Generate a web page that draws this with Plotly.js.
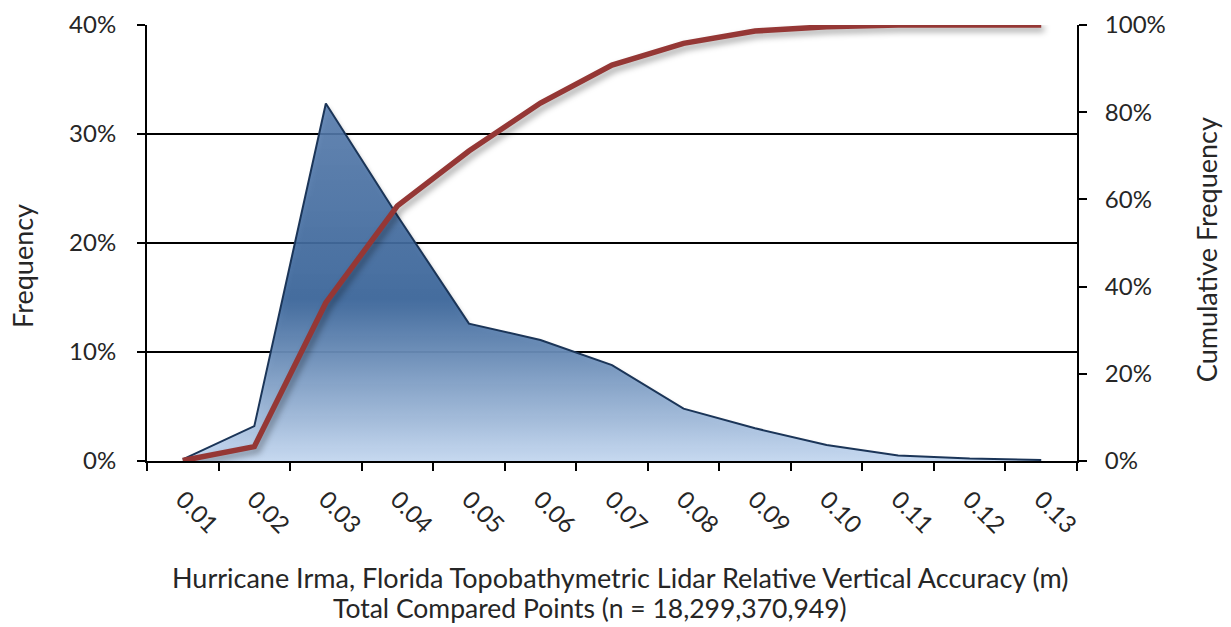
<!DOCTYPE html>
<html>
<head>
<meta charset="utf-8">
<script src="https://cdn.plot.ly/plotly-3.0.1.min.js"></script>
<style>
  html, body { margin: 0; padding: 0; background: #ffffff; }
  #chart { width: 1231px; height: 627px; }
</style>
</head>
<body>
<div id="chart"></div>
<script>
// Category labels (m)
const categories = ["0.01","0.02","0.03","0.04","0.05","0.06","0.07","0.08","0.09","0.10","0.11","0.12","0.13"];
// Frequency (fraction of points) per bin
const frequency = [0.0015, 0.032, 0.328, 0.225, 0.126, 0.111, 0.088, 0.048, 0.030, 0.0147, 0.005, 0.0022, 0.001];
// Cumulative frequency per bin
const cumulative = [0.001, 0.033, 0.363, 0.585, 0.711, 0.821, 0.908, 0.958, 0.986, 0.996, 1.0, 1.0, 1.0];

const leftTicks = [0, 0.1, 0.2, 0.3, 0.4];
const rightTicks = [0, 0.2, 0.4, 0.6, 0.8, 1.0];

const xTitle1 = "Hurricane Irma, Florida Topobathymetric Lidar Relative Vertical Accuracy (m)";
const xTitle2 = "Total Compared Points (n = 18,299,370,949)";
const yTitle = "Frequency";
const y2Title = "Cumulative Frequency";

const FONT = "Lato, 'Open Sans', sans-serif";
const TXT = "#262626";

const traces = [
  {
    x: categories,
    y: frequency,
    type: "scatter",
    mode: "lines",
    fill: "tozeroy",
    fillgradient: {
      type: "vertical",
      start: 0,
      stop: 0.33,
      colorscale: [
        [0, "rgba(198,217,241,0.97)"],
        [0.45, "rgba(60,103,156,0.93)"],
        [1, "rgba(88,126,176,0.88)"]
      ]
    },
    line: { color: "#1B3558", width: 2 },
    xaxis: "x",
    yaxis: "y",
    hoverinfo: "skip",
    showlegend: false
  },
  {
    x: categories,
    y: cumulative,
    type: "scatter",
    mode: "lines",
    line: { color: "#953735", width: 5.5 },
    xaxis: "x",
    yaxis: "y2",
    hoverinfo: "skip",
    showlegend: false
  }
];

const layout = {
  width: 1231,
  height: 627,
  margin: { l: 147, r: 154, t: 25, b: 166 },
  paper_bgcolor: "#ffffff",
  plot_bgcolor: "#ffffff",
  font: { family: FONT, size: 24, color: TXT },
  showlegend: false,
  xaxis: {
    type: "category",
    range: [-0.5, 12.5],
    tickmode: "array",
    tickvals: categories,
    ticktext: categories,
    tickson: "boundaries",
    ticks: "outside",
    ticklen: 8,
    tickwidth: 2,
    tickcolor: "#000000",
    tickangle: 45,
    showgrid: false,
    showline: true,
    linecolor: "#000000",
    linewidth: 2,
    zeroline: false,
    ticklabelstandoff: 13,
    tickfont: { family: FONT, size: 24, color: TXT }
  },
  yaxis: {
    range: [0, 0.4],
    tickvals: leftTicks,
    tickformat: ".0%",
    ticks: "outside",
    ticklen: 8,
    tickwidth: 2,
    tickcolor: "#000000",
    showline: true,
    linecolor: "#000000",
    linewidth: 2,
    showgrid: true,
    gridcolor: "#000000",
    gridwidth: 2,
    zeroline: false,
    ticklabelstandoff: 16,
    tickfont: { family: FONT, size: 24, color: TXT }
  },
  yaxis2: {
    range: [0, 1],
    overlaying: "y",
    side: "right",
    tickvals: rightTicks,
    tickformat: ".0%",
    ticks: "outside",
    ticklen: 8,
    tickwidth: 2,
    tickcolor: "#000000",
    showline: true,
    linecolor: "#000000",
    linewidth: 2,
    showgrid: false,
    zeroline: false,
    ticklabelstandoff: 13,
    tickfont: { family: FONT, size: 24, color: TXT }
  },
  annotations: [
    {
      text: xTitle1,
      xref: "paper", yref: "paper", x: 0.509, y: -0.268,
      xanchor: "center", yanchor: "middle", showarrow: false,
      font: { family: FONT, size: 27, color: TXT }
    },
    {
      text: xTitle2,
      xref: "paper", yref: "paper", x: 0.476, y: -0.338,
      xanchor: "center", yanchor: "middle", showarrow: false,
      font: { family: FONT, size: 26.5, color: TXT }
    },
    {
      text: yTitle,
      xref: "paper", yref: "paper", x: -0.1346, y: 0.447, textangle: -90,
      xanchor: "center", yanchor: "middle", showarrow: false,
      font: { family: FONT, size: 27, color: TXT }
    },
    {
      text: y2Title,
      xref: "paper", yref: "paper", x: 1.140, y: 0.484, textangle: -90,
      xanchor: "center", yanchor: "middle", showarrow: false,
      font: { family: FONT, size: 27, color: TXT }
    }
  ]
};

Plotly.newPlot("chart", traces, layout, { displayModeBar: false, staticPlot: true }).then(function (gd) {
  const lines = gd.querySelectorAll(".scatterlayer .trace");
  lines.forEach(function (t, i) {
    if (i === 1) {
      const p = t.querySelector("path.js-line");
      if (p) p.style.filter = "drop-shadow(3px 4px 3px rgba(0,0,0,0.35))";
    } else {
      const f = t.querySelector("path.js-fill");
      if (f) f.style.filter = "drop-shadow(2px 3px 2px rgba(0,0,0,0.3))";
    }
  });
});
</script>
</body>
</html>
